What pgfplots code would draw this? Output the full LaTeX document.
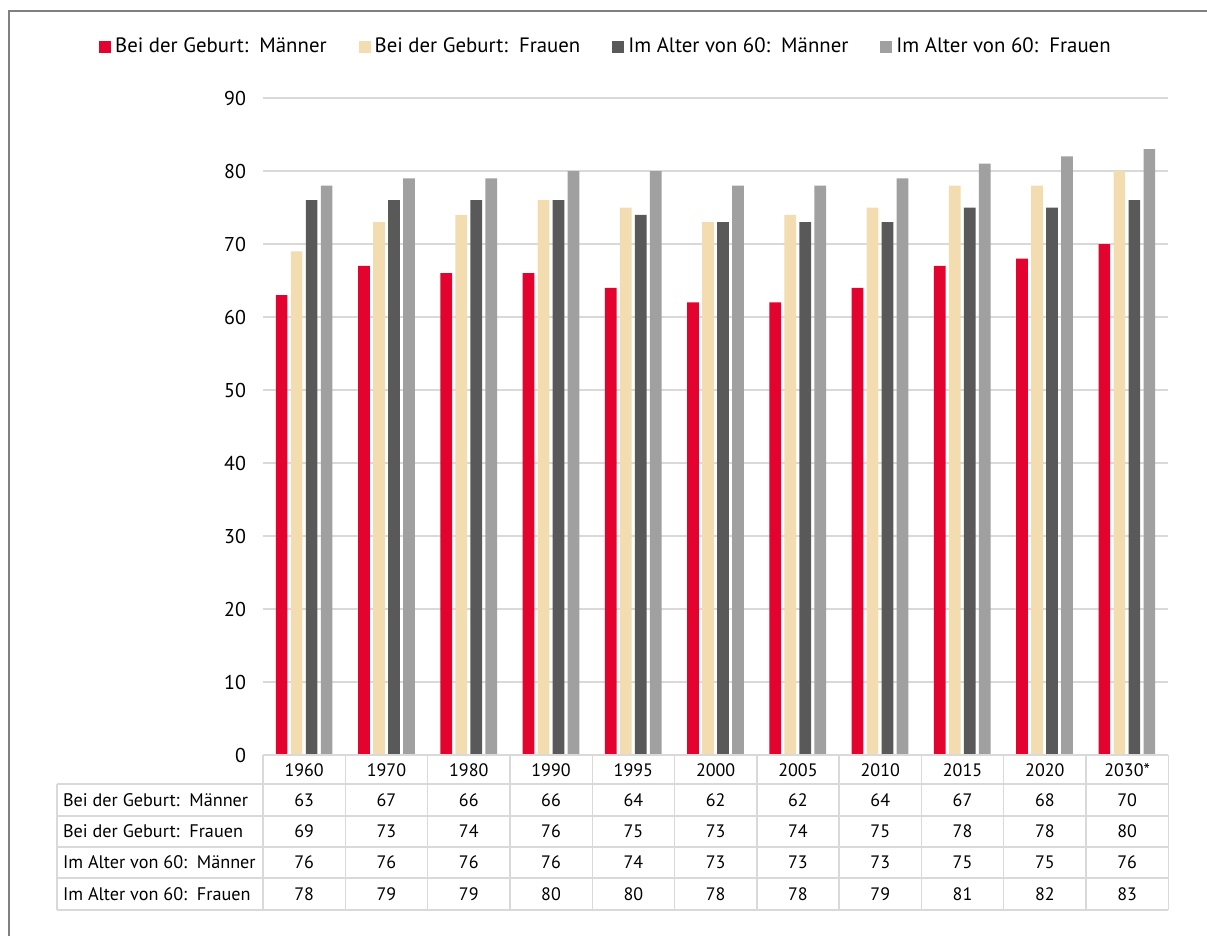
\documentclass[border=0pt]{standalone}
\usepackage{fontspec}
\setmainfont{PT Sans}
\usepackage{pgfplots}
\pgfplotsset{compat=1.18}
\usepackage{pgfplotstable}
\definecolor{cRed}{HTML}{E4032E}
\definecolor{cBeige}{HTML}{F3DCB0}
\definecolor{cDark}{HTML}{595959}
\definecolor{cGray}{HTML}{A0A0A0}
\definecolor{cGrid}{HTML}{D9D9D9}
\definecolor{cFrame}{HTML}{808080}

\pgfplotstableread{
x m f ma fa
0 63 69 76 78
1 67 73 76 79
2 66 74 76 79
3 66 76 76 80
4 64 75 74 80
5 62 73 73 78
6 62 74 73 78
7 64 75 73 79
8 67 78 75 81
9 68 78 75 82
10 70 80 76 83
}\data

\begin{document}
\begin{tikzpicture}
\useasboundingbox (0,0) rectangle (603.5pt,-468pt);
\begin{axis}[
  at={(131.5pt,-377.5pt)}, anchor=south west,
  scale only axis, width=452.5pt, height=328.5pt,
  xmin=-0.5, xmax=10.5, ymin=0, ymax=90,
  ytick={0,10,...,90}, xtick=\empty,
  ymajorgrids, grid style={cGrid, line width=0.7pt},
  axis line style={draw=none},
  major tick length=0pt,
  tick label style={font=\fontsize{10}{12}\selectfont},
  yticklabel style={xshift=-5pt},
  /pgf/number format/assume math mode=true,
  legend columns=4,
  legend cell align=left,
  legend image code/.code={\fill[#1] (0pt,-3pt) rectangle (6pt,3pt);},
  legend style={at={(0.38,1.0776)}, anchor=center, draw=none,
    font=\fontsize{10.4}{12}\selectfont,
    /tikz/every even column/.append style={column sep=14pt},
    /tikz/every odd column/.append style={column sep=0pt}},
]
\addplot[ybar, bar width=5.85pt, bar shift=-11.25pt, fill=cRed, draw=none] table[x=x,y=m] {\data};
\addlegendentry{Bei der Geburt:\ \ Männer}
\addplot[ybar, bar width=5.85pt, bar shift=-3.75pt, fill=cBeige, draw=none] table[x=x,y=f] {\data};
\addlegendentry{Bei der Geburt:\ \ Frauen}
\addplot[ybar, bar width=5.85pt, bar shift=3.75pt, fill=cDark, draw=none] table[x=x,y=ma] {\data};
\addlegendentry{Im Alter von 60:\ \ Männer}
\addplot[ybar, bar width=5.85pt, bar shift=11.25pt, fill=cGray, draw=none] table[x=x,y=fa] {\data};
\addlegendentry{Im Alter von 60:\ \ Frauen}
\end{axis}

\begin{scope}[x=0.5pt, y=-0.5pt]
  % frame
  \draw[cFrame, line width=1pt] (9,960) -- (9,11.5) -- (1230,11.5);
  % table grid
  \begin{scope}[cGrid, line width=0.7pt]
    \draw (263,755) -- (1168.3,755);
    \foreach \yy in {784,816,847,878,910} \draw (57,\yy) -- (1168.3,\yy);
    \draw (57,784) -- (57,910);
    \foreach \k in {0,...,11} \draw ({263+82.3*\k},755) -- ({263+82.3*\k},910);
  \end{scope}
  % header
  \foreach \yr [count=\i from 0] in {1960,1970,1980,1990,1995,2000,2005,2010,2015,2020,2030*}
    \node[font=\fontsize{9}{10}\selectfont] at ({263+82.3*(\i+0.5)},770) {\yr};
  % row labels
  \node[anchor=west, font=\fontsize{9.1}{10}\selectfont] at (56,800) {Bei der Geburt:\ \ Männer};
  \node[anchor=west, font=\fontsize{9.1}{10}\selectfont] at (56,831.5) {Bei der Geburt:\ \ Frauen};
  \node[anchor=west, font=\fontsize{9.1}{10}\selectfont] at (56,862.5) {Im Alter von 60:\ \ Männer};
  \node[anchor=west, font=\fontsize{9.1}{10}\selectfont] at (56,894) {Im Alter von 60:\ \ Frauen};
  % values
  \foreach \i in {0,...,10} {
    \pgfplotstablegetelem{\i}{m}\of\data
    \node[font=\fontsize{9}{10}\selectfont] at ({263+82.3*(\i+0.5)},800) {\pgfplotsretval};
    \pgfplotstablegetelem{\i}{f}\of\data
    \node[font=\fontsize{9}{10}\selectfont] at ({263+82.3*(\i+0.5)},831.5) {\pgfplotsretval};
    \pgfplotstablegetelem{\i}{ma}\of\data
    \node[font=\fontsize{9}{10}\selectfont] at ({263+82.3*(\i+0.5)},862.5) {\pgfplotsretval};
    \pgfplotstablegetelem{\i}{fa}\of\data
    \node[font=\fontsize{9}{10}\selectfont] at ({263+82.3*(\i+0.5)},894) {\pgfplotsretval};
  }
\end{scope}
\end{tikzpicture}
\end{document}
